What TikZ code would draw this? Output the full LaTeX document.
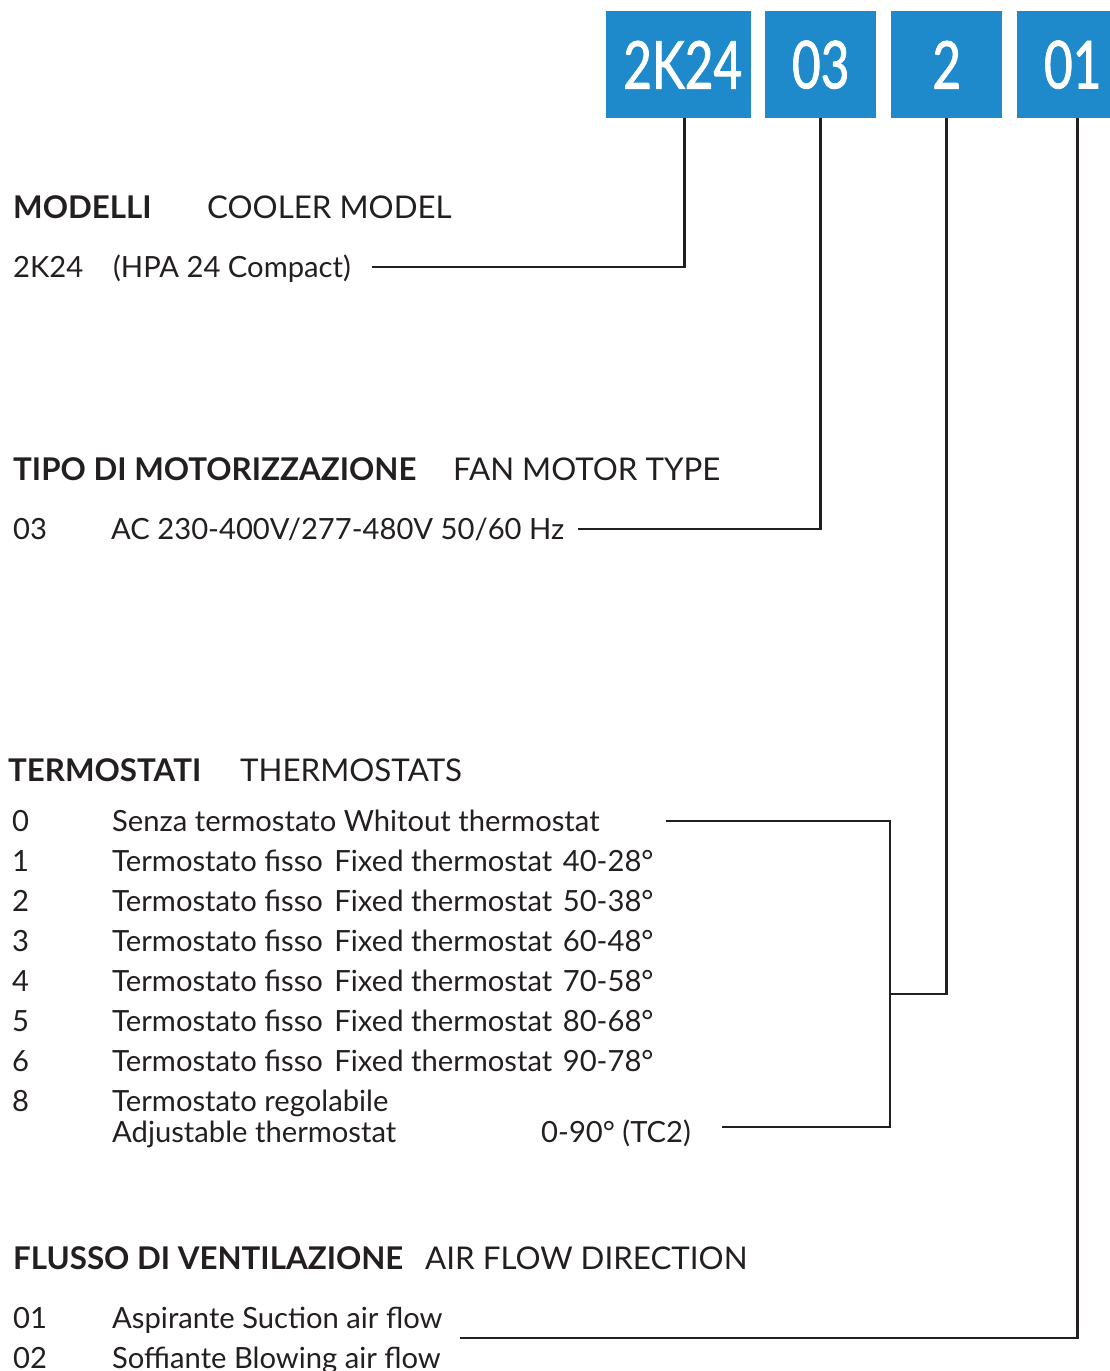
\documentclass[tikz,border=0pt]{standalone}
\usepackage{fontspec}
\setmainfont{Lato}
\newfontfamily\codefont[FakeStretch=0.75,FakeBold=1.2]{Lato}
\usetikzlibrary{calc}
\definecolor{codeblue}{HTML}{1F8ACB}
\definecolor{inkgray}{HTML}{231F20}

\begin{document}
\begin{tikzpicture}[x=1pt,y=-1pt,
          every node/.style={inner sep=0pt, anchor=base west, text=inkgray, font=\fontsize{29.2}{34}\selectfont},
          head/.style={font=\fontsize{31.3}{36}\selectfont\bfseries},
          sub/.style={font=\fontsize{31.3}{36}\selectfont},
          code/.style={fill=codeblue, anchor=north west, minimum height=107pt, minimum width=111pt, text=white, font=\codefont\fontsize{66}{70}\selectfont},
          wire/.style={draw=inkgray, line width=2.8pt, line join=miter}
      ]
        \useasboundingbox (0,0) rectangle (1110,1371);
        \clip (0,0) rectangle (1110,1371);

        \node[code, minimum width=145pt] (mod) at (606,11) {\hspace{8pt}2K24};
        \node[code] (mot) at (765,11) {03};
        \node[code] (term) at (891,11) {2};
        \node[code] (flow) at (1017,11) {01};

        \node[head] (hmod) at (13,218) {MODELLI};
        \node[sub] (smod) at (207,218) {COOLER MODEL};
        \node (cmod) at (13,277) {2K24};
        \node (dmod) at (113,277) {(HPA 24 Compact)};

        \node[head] (hmot) at (13,480) {TIPO DI MOTORIZZAZIONE};
        \node[sub] (smot) at (453,480) {FAN MOTOR TYPE};
        \node (cmot) at (13,539) {03};
        \node (dmot) at (111,539) {AC 230-400V/277-480V 50/60 Hz};

        \node[head] (hterm) at (8,781) {TERMOSTATI};
        \node[sub] (sterm) at (240,781) {THERMOSTATS};
        \foreach \n/\txt [count=\i from 0] in {0/Senza termostato Whitout thermostat,
            1/Termostato fisso\hspace{4pt} Fixed thermostat\hspace{3pt} 40-28°,
            2/Termostato fisso\hspace{4pt} Fixed thermostat\hspace{3pt} 50-38°,
            3/Termostato fisso\hspace{4pt} Fixed thermostat\hspace{3pt} 60-48°,
            4/Termostato fisso\hspace{4pt} Fixed thermostat\hspace{3pt} 70-58°,
            5/Termostato fisso\hspace{4pt} Fixed thermostat\hspace{3pt} 80-68°,
            6/Termostato fisso\hspace{4pt} Fixed thermostat\hspace{3pt} 90-78°,
            8/Termostato regolabile} {
          \node (cterm\i) at (12,831+40*\i) {\n};
          \node (dterm\i) at (112,831+40*\i) {\txt};
        }
        \node (dadj) at (112,1142) {Adjustable thermostat};
        \node (radj) at (541,1142) {0-90° (TC2)};

        \node[head] (hflow) at (13,1269) {FLUSSO DI VENTILAZIONE};
        \node[sub] (sflow) at (425,1269) {AIR FLOW DIRECTION};
        \node (cflow1) at (13,1328) {01};
        \node (dflow1) at (112,1328) {Aspirante Suction air flow};
        \node (cflow2) at (13,1368) {02};
        \node (dflow2) at (112,1368) {Soffiante Blowing air flow};

        \coordinate (emod) at (372,267);
        \coordinate (emot) at (578,529);
        \coordinate (eterm) at (890,994);
        \coordinate (eflow) at (460,1338);
        \coordinate (t0) at (666,821);
        \coordinate (tb) at (890,1127);
        \coordinate (t8) at (722,1127);

        \draw[wire] ($(mod.south)+(6,0)$) |- (emod);
        \draw[wire] (mot.south) |- (emot);
        \draw[wire] (term.south) |- (eterm);
        \draw[wire] ($(flow.south)+(4.5,0)$) |- (eflow);
        \draw[wire] (t0) -| (tb) -- (t8);
      \end{tikzpicture}
\end{document}
